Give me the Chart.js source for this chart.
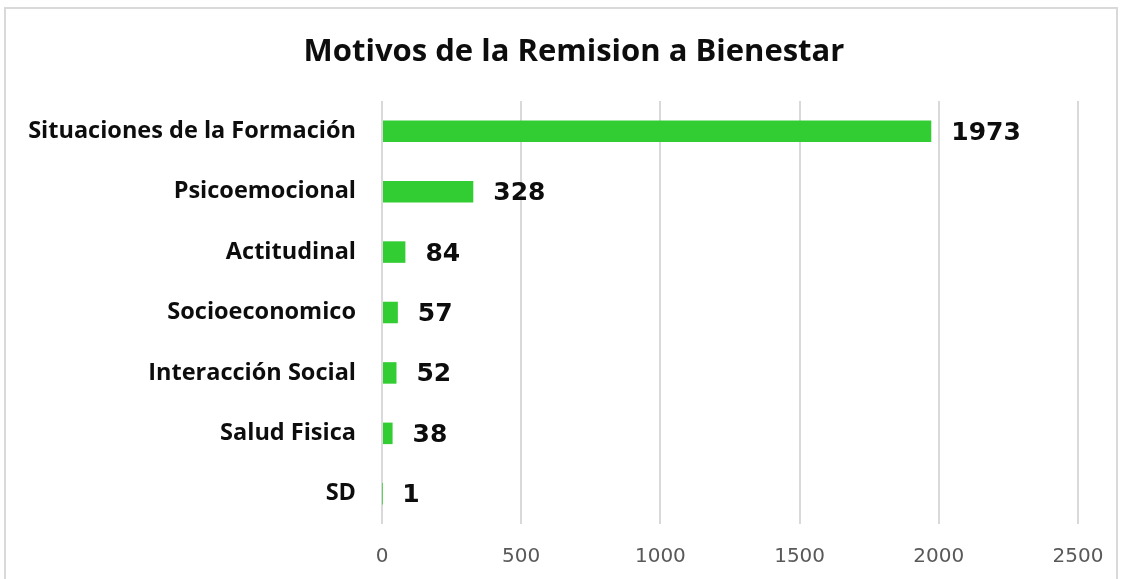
<!DOCTYPE html>
<html>
<head>
<meta charset="utf-8">
<script src="https://cdn.jsdelivr.net/npm/chart.js@4/dist/chart.umd.min.js"></script>
<style>
  html, body { margin: 0; padding: 0; background: #fff; overflow: hidden; }
  #frame { position: absolute; left: 4px; top: 7px; width: 1114px; height: 620px; border: 2px solid #d9d9d9; box-sizing: border-box; }
  #wrap { position: absolute; left: 0; top: 0; width: 1130px; height: 579px; }
  #title { position: absolute; left: 274px; width: 600px; top: 30px; height: 38px; line-height: 38px;
           text-align: center; font-family: 'Open Sans'; font-weight: bold; font-size: 31px; color: #0d0d0d; white-space: nowrap; }
</style>
</head>
<body>
<div id="frame"></div>
<div id="wrap"><canvas id="c" width="1130" height="579"></canvas></div>
<div id="title"></div>
<script>
const titleText = "Motivos de la Remision a Bienestar";
const categories = ["Situaciones de la Formación", "Psicoemocional", "Actitudinal", "Socioeconomico", "Interacción Social", "Salud Fisica", "SD"];
const values = [1973, 328, 84, 57, 52, 38, 1];
const xTicks = [0, 500, 1000, 1500, 2000, 2500];

const PLOT_LEFT = 382, PLOT_RIGHT = 1078, PLOT_TOP = 101, PLOT_BOTTOM = 524;

document.getElementById('title').textContent = titleText;

const valueLabels = {
  id: 'valueLabels',
  afterDatasetsDraw(chart) {
    const ctx = chart.ctx;
    const meta = chart.getDatasetMeta(0);
    ctx.save();
    ctx.font = "bold 25px 'DejaVu Sans'";
    ctx.fillStyle = "#0d0d0d";
    ctx.textAlign = "left";
    ctx.textBaseline = "middle";
    meta.data.forEach((bar, i) => {
      ctx.fillText(String(values[i]), bar.x + 20, bar.y + 2);
    });
    ctx.restore();
  }
};

new Chart(document.getElementById('c'), {
  type: 'bar',
  data: {
    labels: categories,
    datasets: [{
      data: values,
      backgroundColor: '#32CD32',
      borderWidth: 0,
      barPercentage: 0.356,
      categoryPercentage: 1.0
    }]
  },
  options: {
    indexAxis: 'y',
    responsive: false,
    animation: false,
    devicePixelRatio: 1,
    layout: { padding: { left: 0, right: 1130 - PLOT_RIGHT, top: PLOT_TOP, bottom: 0 } },
    plugins: {
      legend: { display: false },
      tooltip: { enabled: false },
      title: { display: false }
    },
    scales: {
      x: {
        min: 0, max: 2500,
        afterBuildTicks(scale) { scale.ticks = xTicks.map(v => ({ value: v })); },
        afterFit(scale) { scale.height = 579 - PLOT_BOTTOM; },
        grid: { color: '#d9d9d9', lineWidth: 2, drawTicks: false },
        border: { display: false },
        ticks: {
          color: '#595959',
          font: { family: "'DejaVu Sans'", size: 20 },
          padding: 21,
          callback: (v) => String(v)
        }
      },
      y: {
        afterFit(scale) { scale.width = PLOT_LEFT; },
        grid: { display: false, drawTicks: false },
        border: { display: false },
        ticks: { color: '#0d0d0d', font: { family: "'Open Sans'", size: 23.5, weight: 'bold' }, padding: 26 }
      }
    }
  },
  plugins: [valueLabels]
});
</script>
</body>
</html>
